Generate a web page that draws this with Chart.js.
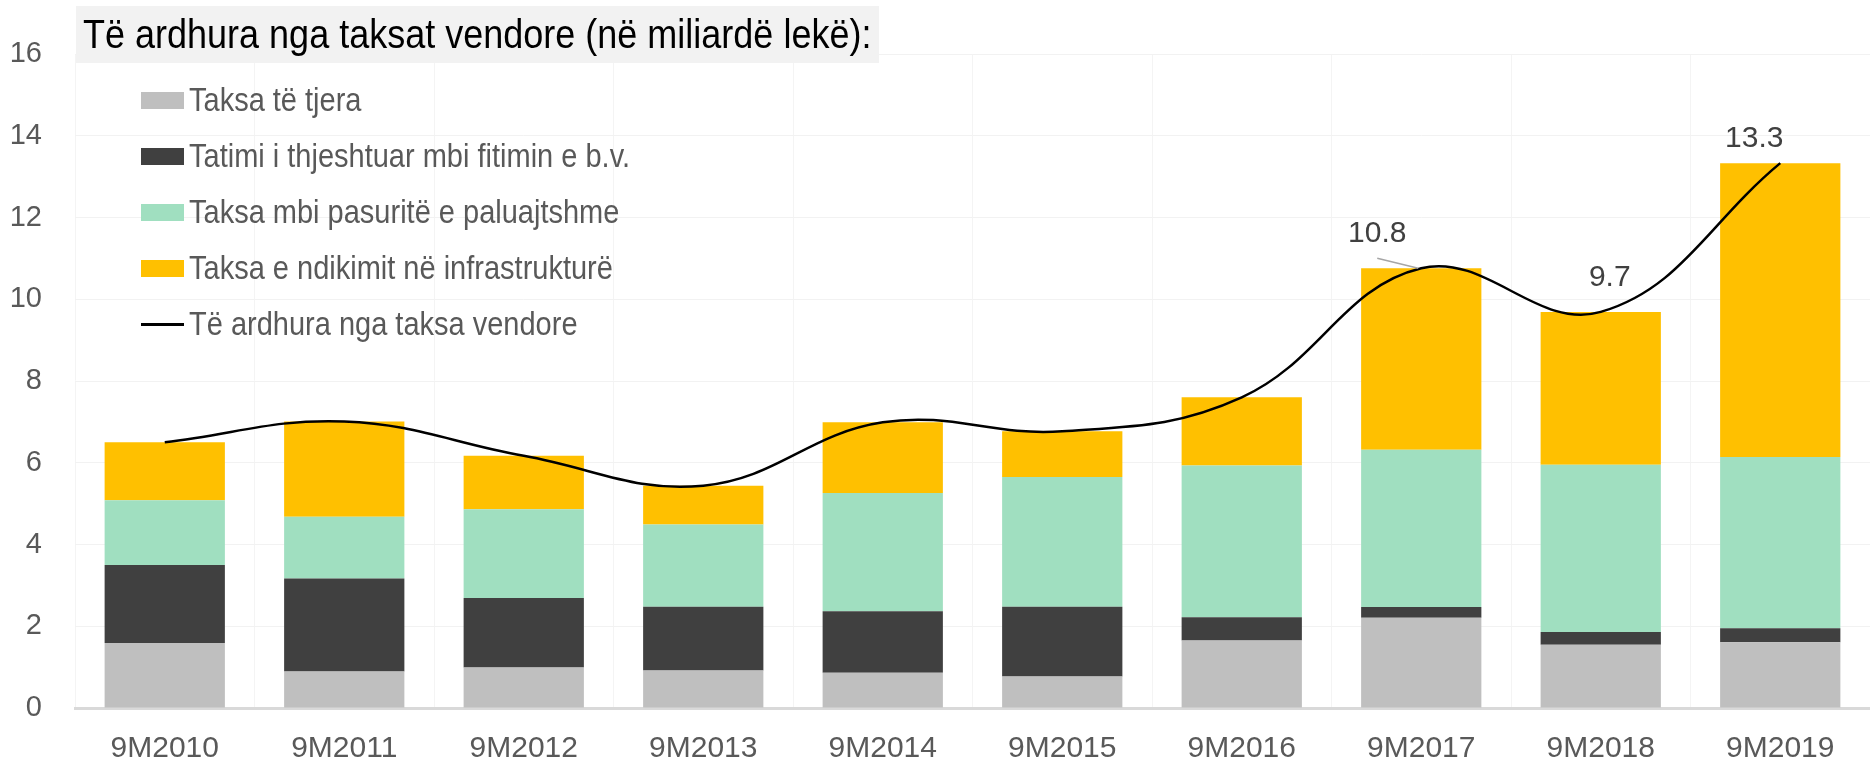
<!DOCTYPE html>
<html>
<head>
<meta charset="utf-8">
<script src="https://cdn.jsdelivr.net/npm/chart.js@4/dist/chart.umd.min.js"></script>
<style>
  html, body { margin: 0; padding: 0; background: #fff; }
  #wrap { position: relative; width: 1870px; height: 765px; }
  #titulli {
    position: absolute; left: 76px; top: 6px; width: 796px; height: 57px;
    background: #f2f2f2; color: #000; padding-left: 7px;
    font: 36px 'Liberation Sans', Arial, sans-serif;
    line-height: 57px; white-space: nowrap;
  }
  #titulli span { display: inline-block; transform: scaleY(1.15); transform-origin: 50% 55%; }
  #legjenda { position: absolute; left: 141px; top: 72px; }
  .rresht { height: 56px; display: flex; align-items: center;
    font: 29px 'Liberation Sans', Arial, sans-serif; color: #595959; white-space: nowrap; }
  .rresht span { display: inline-block; transform: scaleY(1.15); }
  .shenja { width: 43px; height: 17px; margin-right: 5px; }
  .vija { width: 43px; height: 3px; margin: 7px 5px 7px 0; background: #000; }
</style>
</head>
<body>
<div id="wrap">
  <canvas id="grafiku" width="1870" height="765"></canvas>
  <div id="titulli"><span>Të ardhura nga taksat vendore (në miliardë lekë):</span></div>
  <div id="legjenda"></div>
</div>
<script>
var kategorite = ['9M2010','9M2011','9M2012','9M2013','9M2014','9M2015','9M2016','9M2017','9M2018','9M2019']
var taksaTjera = [1.59, 0.89, 0.99, 0.92, 0.86, 0.77, 1.65, 2.21, 1.55, 1.61]
var tatimiThjeshtuar = [1.91, 2.28, 1.70, 1.56, 1.51, 1.71, 0.57, 0.26, 0.31, 0.34]
var taksaPasurite = [1.58, 1.51, 2.17, 2.01, 2.89, 3.17, 3.71, 3.85, 4.09, 4.19]
var taksaInfrastrukture = [1.42, 2.33, 1.31, 0.95, 1.73, 1.12, 1.67, 4.44, 3.74, 7.19]
var totali = [6.50, 7.01, 6.17, 5.44, 6.99, 6.77, 7.60, 10.76, 9.69, 13.33]
var yTicks = [0, 2, 4, 6, 8, 10, 12, 14, 16]

var NGJYRA = {
    "gri": "#bfbfbf",
    "erret": "#404040",
    "jeshile": "#a0dfc0",
    "verdhe": "#ffc000",
    "teksti": "#595959",
}
var FONT = "'Liberation Sans', Arial, sans-serif"

// etiketat e vleres vetem per tre vitet e fundit (dx, dy nga pika)
var etiketat = {
    7: {dx: -44, dy: -34, vije: true},
    8: {dx: 9, dy: -34},
    9: {dx: -26, dy: -24},
}

var etiketaPlugin = {
    id: 'etiketa',
    afterDatasetsDraw: function(chart){
        var ctx = chart.ctx
        var meta = chart.getDatasetMeta(4)
        ctx.save()
        ctx.font = '30px ' + FONT
        ctx.fillStyle = '#404040'
        ctx.textAlign = 'center'
        ctx.textBaseline = 'middle'
        Object.keys(etiketat).forEach(function(k){
            var p = meta.data[k]
            var e = etiketat[k]
            if(e.vije){
                ctx.strokeStyle = '#a6a6a6'
                ctx.lineWidth = 1.5
                ctx.beginPath()
                ctx.moveTo(p.x + e.dx, p.y + e.dy + 24)
                ctx.lineTo(p.x - 3, p.y)
                ctx.stroke()
            }
            ctx.fillText(totali[k].toFixed(1), p.x + e.dx, p.y + e.dy)
        })
        ctx.restore()
    }
}

var chart = new Chart(document.getElementById('grafiku'), {
    type: 'bar',
    data: {
        labels: kategorite,
        datasets: [
            {label: 'Taksa të tjera', data: taksaTjera, backgroundColor: NGJYRA.gri, order: 1},
            {label: 'Tatimi i thjeshtuar mbi fitimin e b.v.', data: tatimiThjeshtuar, backgroundColor: NGJYRA.erret, order: 1},
            {label: 'Taksa mbi pasuritë e paluajtshme', data: taksaPasurite, backgroundColor: NGJYRA.jeshile, order: 1},
            {label: 'Taksa e ndikimit në infrastrukturë', data: taksaInfrastrukture, backgroundColor: NGJYRA.verdhe, order: 1},
            {
                type: 'line', label: 'Të ardhura nga taksa vendore', data: totali,
                borderColor: '#000', borderWidth: 2.5, pointRadius: 0, tension: 0.4,
                fill: false, stack: 'totali', order: 0,
            },
        ],
    },
    options: {
        responsive: false,
        animation: false,
        layout: {padding: {top: 54, right: 0, left: 0, bottom: 0}},
        datasets: {bar: {categoryPercentage: 1, barPercentage: 0.67}},
        plugins: {legend: {display: false}, title: {display: false}, tooltip: {enabled: false}},
        scales: {
            x: {
                stacked: true,
                grid: {color: '#f4f4f4', lineWidth: 1, drawTicks: false, offset: true},
                border: {color: '#d9d9d9', width: 3},
                ticks: {color: NGJYRA.teksti, font: {size: 30, family: FONT}, padding: 23, maxRotation: 0},
                afterFit: function(s){ s.height = 57 },
            },
            y: {
                stacked: true,
                min: 0, max: 16,
                grid: {color: '#f2f2f2', lineWidth: 1, drawTicks: false},
                border: {display: false},
                afterBuildTicks: function(s){ s.ticks = yTicks.map(function(v){ return {value: v} }) },
                ticks: {color: NGJYRA.teksti, font: {size: 29, family: FONT}, padding: 33},
                afterFit: function(s){ s.width = 75 },
            },
        },
    },
    plugins: [etiketaPlugin],
})

// legjenda
var leg = document.getElementById('legjenda')
chart.data.datasets.forEach(function(ds){
    var r = document.createElement('div')
    r.className = 'rresht'
    var s = document.createElement('div')
    if(ds.type === 'line'){
        s.className = 'vija'
    } else {
        s.className = 'shenja'
        s.style.background = ds.backgroundColor
    }
    r.appendChild(s)
    var t = document.createElement('span')
    t.textContent = ds.label
    r.appendChild(t)
    leg.appendChild(r)
})
</script>
</body>
</html>
